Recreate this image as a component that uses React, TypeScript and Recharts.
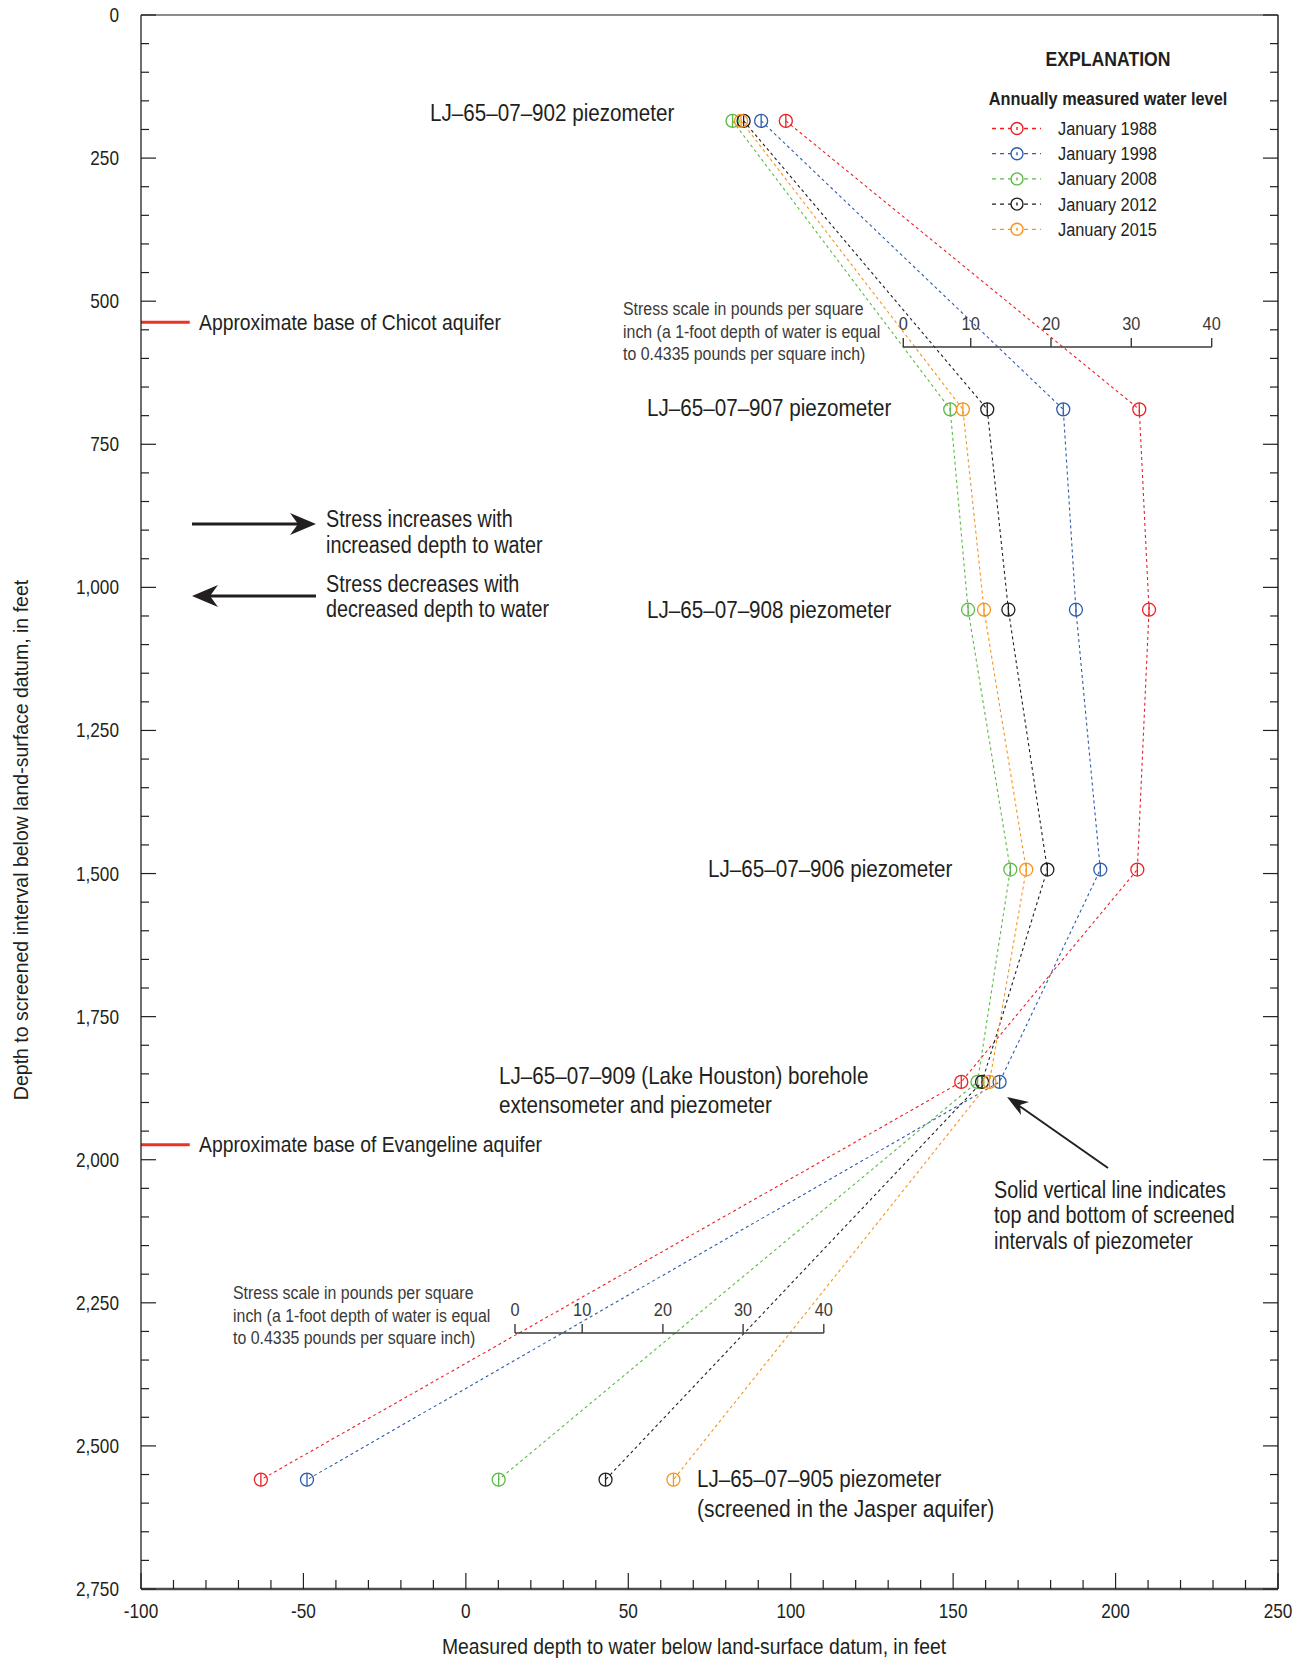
import React from "react";
import { ScatterChart, Scatter, XAxis, YAxis, ReferenceLine } from "recharts";

const WIDTH = 1301;
const HEIGHT = 1658;
const FONT = '"Liberation Sans", Arial, sans-serif';
const SQUEEZE = 0.86; // the figure uses a condensed face, fake it with a horizontal squeeze
const INK = "#231f20";

// piezometers and the depth of their screened intervals, feet below land surface
const wells = ["LJ–65–07–902", "LJ–65–07–907", "LJ–65–07–908", "LJ–65–07–906", "LJ–65–07–909", "LJ–65–07–905"];
const wellDepths = [185, 689, 1039, 1493, 1864, 2559];

// measured depth to water below land-surface datum, feet (same order as wells)
const jan1988 = [98.5, 207.3, 210.3, 206.7, 152.5, -63.1];
const jan1998 = [90.9, 183.9, 187.8, 195.3, 164.3, -48.9];
const jan2008 = [82.1, 149.1, 154.6, 167.6, 157.5, 10.1];
const jan2012 = [85.5, 160.5, 167.0, 179.0, 158.9, 43.0];
const jan2015 = [84.7, 153.0, 159.5, 172.5, 161.2, 63.9];

const years = ["January 1988", "January 1998", "January 2008", "January 2012", "January 2015"];
const colors = ["#ed2024", "#2e5caa", "#5cb947", "#231f20", "#f7941d"];

const xMajor = [-100, -50, 0, 50, 100, 150, 200, 250];
const yMajor = [0, 250, 500, 750, 1000, 1250, 1500, 1750, 2000, 2250, 2500, 2750];
const xTicks = Array.from({ length: 36 }, (_, i) => -100 + i * 10);
const yTicks = Array.from({ length: 56 }, (_, i) => i * 50);

const stressLabels = ["0", "10", "20", "30", "40"];

const seriesValues = [jan1988, jan1998, jan2008, jan2012, jan2015];
const series = years.map((name, i) => ({
  name,
  color: colors[i],
  data: wellDepths.map((depth, j) => ({ well: wells[j], depth, water: seriesValues[i][j] }))
}));

const fmt = (v: number) => v.toLocaleString("en-US");

const T = ({ x, y, size = 23.5, weight = "normal", color = INK, anchor = "start", children }: any) => <text transform={`translate(${x} ${y}) scale(${SQUEEZE} 1)`} fontFamily={FONT} fontSize={size} fontWeight={weight} fill={color} textAnchor={anchor} dominantBaseline="central">
    {children}
  </text>;

const bottomTick = (props: any) => {
  const { x, y, payload } = props;
  const major = xMajor.includes(payload.value);
  return <g>
      <line x1={x} x2={x} y1={y} y2={y - (major ? 16 : 9)} stroke={INK} strokeWidth={1.2} />
      {major && <T x={x} y={y + 22} size={20} anchor="middle">{payload.value}</T>}
    </g>;
};

const topTick = (props: any) => {
  const { x, y, payload } = props;
  const major = xMajor.includes(payload.value);
  return <line x1={x} x2={x} y1={y} y2={y + (major ? 16 : 9)} stroke={INK} strokeWidth={1.2} />;
};

const leftTick = (props: any) => {
  const { x, y, payload } = props;
  const major = yMajor.includes(payload.value);
  return <g>
      <line x1={x} x2={x + (major ? 15 : 8)} y1={y} y2={y} stroke={INK} strokeWidth={1.2} />
      {major && <T x={x - 22} y={y} size={20} anchor="end">{fmt(payload.value)}</T>}
    </g>;
};

const rightTick = (props: any) => {
  const { x, y, payload } = props;
  const major = yMajor.includes(payload.value);
  return <line x1={x} x2={x - (major ? 15 : 8)} y1={y} y2={y} stroke={INK} strokeWidth={1.2} />;
};

// open circle with the screened interval drawn through it
const Piezo = ({ cx, cy, color }: { cx: number; cy: number; color: string }) => <g>
    <circle cx={cx} cy={cy} r={6.5} fill="none" stroke={color} strokeWidth={1.3} />
    <line x1={cx} x2={cx} y1={cy - 6.5} y2={cy + 6.5} stroke={color} strokeWidth={1.3} />
  </g>;

const StressScale = ({ xs, y, tx, ty }: { xs: number[]; y: number; tx: number; ty: number }) => <g>
    <line x1={xs[0]} x2={xs[xs.length - 1]} y1={y} y2={y} stroke="#3a3a3a" strokeWidth={1.6} />
    {xs.map((x, i) => <g key={i}>
        <line x1={x} x2={x} y1={y} y2={y - 9} stroke="#3a3a3a" strokeWidth={1.4} />
        <T x={x} y={y - 23} size={19} color="#3a3a3a" anchor="middle">{stressLabels[i]}</T>
      </g>)}
    <T x={tx} y={ty} size={18.5} color="#3a3a3a">Stress scale in pounds per square</T>
    <T x={tx} y={ty + 22.5} size={18.5} color="#3a3a3a">inch (a 1-foot depth of water is equal</T>
    <T x={tx} y={ty + 45} size={18.5} color="#3a3a3a">to 0.4335 pounds per square inch)</T>
  </g>;

const Notes = () => <svg width={WIDTH} height={HEIGHT} style={{
  position: "absolute",
  left: 0,
  top: 0,
  pointerEvents: "none"
}}>
    {/* explanation */}
    <T x={1108} y={59} size={20.5} weight="bold" anchor="middle">EXPLANATION</T>
    <T x={1108} y={99} size={19} weight="bold" anchor="middle">Annually measured water level</T>
    {years.map((name, i) => {
    const y = 128.5 + i * 25.2;
    return <g key={name}>
          <line x1={992} x2={1041} y1={y} y2={y} stroke={colors[i]} strokeWidth={1.3} strokeDasharray="4 4" />
          <circle cx={1017} cy={y} r={6} fill="#fff" stroke={colors[i]} strokeWidth={1.4} />
          <line x1={1017} x2={1017} y1={y - 1.5} y2={y + 1.5} stroke={colors[i]} strokeWidth={1.4} />
          <T x={1058} y={y} size={19}>{name}</T>
        </g>;
  })}

    {/* well labels */}
    <T x={430} y={113} size={24}>LJ–65–07–902 piezometer</T>
    <T x={647} y={408} size={24}>LJ–65–07–907 piezometer</T>
    <T x={647} y={610} size={24}>LJ–65–07–908 piezometer</T>
    <T x={708} y={869} size={24}>LJ–65–07–906 piezometer</T>
    <T x={499} y={1076} size={24}>LJ–65–07–909 (Lake Houston) borehole</T>
    <T x={499} y={1105} size={24}>extensometer and piezometer</T>
    <T x={697} y={1479} size={24}>LJ–65–07–905 piezometer</T>
    <T x={697} y={1508} size={24.5}>(screened in the Jasper aquifer)</T>

    <T x={199} y={322} size={22.5}>Approximate base of Chicot aquifer</T>
    <T x={199} y={1144} size={22.5}>Approximate base of Evangeline aquifer</T>

    {/* stress direction arrows */}
    <line x1={192} x2={300} y1={524} y2={524} stroke={INK} strokeWidth={3} />
    <polygon points="316,524 290,513 298,524 290,535" fill={INK} />
    <T x={326} y={519} size={23}>Stress increases with</T>
    <T x={326} y={545} size={23}>increased depth to water</T>
    <line x1={208} x2={316} y1={596} y2={596} stroke={INK} strokeWidth={3} />
    <polygon points="192,596 218,585 210,596 218,607" fill={INK} />
    <T x={326} y={584} size={23}>Stress decreases with</T>
    <T x={326} y={609} size={23}>decreased depth to water</T>

    {/* pointer to screened interval */}
    <line x1={1108} x2={1018} y1={1168} y2={1105} stroke={INK} strokeWidth={2} />
    <polygon points="1007,1097 1029,1102 1020,1105 1021,1115" fill={INK} />
    <T x={994} y={1190} size={23}>Solid vertical line indicates</T>
    <T x={994} y={1215} size={23}>top and bottom of screened</T>
    <T x={994} y={1241} size={23}>intervals of piezometer</T>

    <StressScale xs={[903.3, 970.7, 1051, 1131.3, 1211.7]} y={347} tx={623} ty={309} />
    <StressScale xs={[515, 582.2, 662.9, 743.1, 823.8]} y={1333} tx={233} ty={1293} />

    {/* axis titles */}
    <T x={694} y={1646} size={22.5} anchor="middle">Measured depth to water below land-surface datum, in feet</T>
    <text x={21} y={840} transform="rotate(-90 21 840)" textAnchor="middle" dominantBaseline="central" fontFamily={FONT} fontSize={19.5} fill={INK}>
      Depth to screened interval below land-surface datum, in feet
    </text>
  </svg>;

const App = () => {
  return <div style={{
    position: "absolute",
    left: 0,
    top: 0,
    width: WIDTH,
    height: HEIGHT,
    background: "#fff"
  }}>
      <ScatterChart width={WIDTH} height={HEIGHT} margin={{
      top: 14,
      right: 22,
      bottom: 68,
      left: 140
    }}>
        <XAxis xAxisId="b" type="number" dataKey="water" domain={[-100, 250]} ticks={xTicks} interval={0} allowDataOverflow height={1} tickSize={0} tickMargin={0} tickLine={false} axisLine={{
        stroke: "#4d4d4d",
        strokeWidth: 2.5
      }} tick={bottomTick} />
        <XAxis xAxisId="t" orientation="top" type="number" domain={[-100, 250]} ticks={xTicks} interval={0} allowDataOverflow height={1} tickSize={0} tickMargin={0} tickLine={false} axisLine={{
        stroke: "#8c8c8c",
        strokeWidth: 2
      }} tick={topTick} />
        <YAxis yAxisId="l" type="number" dataKey="depth" domain={[0, 2750]} reversed ticks={yTicks} interval={0} allowDataOverflow width={1} tickSize={0} tickMargin={0} tickLine={false} axisLine={{
        stroke: INK,
        strokeWidth: 1.3
      }} tick={leftTick} />
        <YAxis yAxisId="r" orientation="right" type="number" domain={[0, 2750]} reversed ticks={yTicks} interval={0} allowDataOverflow width={1} tickSize={0} tickMargin={0} tickLine={false} axisLine={{
        stroke: "#333",
        strokeWidth: 1.6
      }} tick={rightTick} />
        <ReferenceLine xAxisId="b" yAxisId="l" segment={[{
        x: -100,
        y: 537
      }, {
        x: -85,
        y: 537
      }]} stroke="#ee3124" strokeWidth={3} ifOverflow="visible" />
        <ReferenceLine xAxisId="b" yAxisId="l" segment={[{
        x: -100,
        y: 1974
      }, {
        x: -85,
        y: 1974
      }]} stroke="#ee3124" strokeWidth={3} ifOverflow="visible" />
        {series.map(s => <Scatter key={s.name} name={s.name} data={s.data} xAxisId="b" yAxisId="l" fill={s.color} line={{
        stroke: s.color,
        strokeWidth: 1.1,
        strokeDasharray: "3 3"
      }} lineType="joint" shape={(p: any) => <Piezo cx={p.cx} cy={p.cy} color={s.color} />} isAnimationActive={false} />)}
      </ScatterChart>
      <Notes />
    </div>;
};

export default App;
